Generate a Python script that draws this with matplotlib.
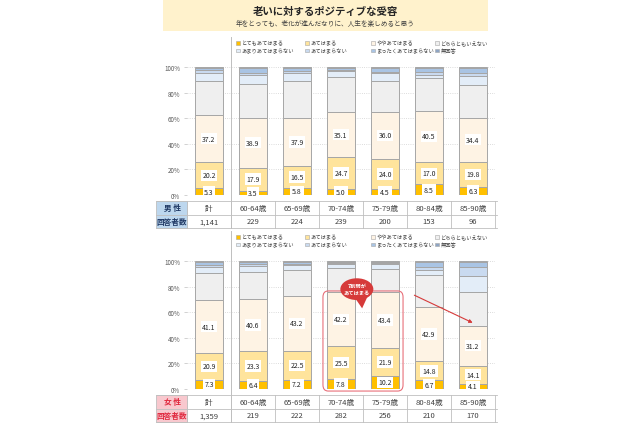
import matplotlib.pyplot as plt
import matplotlib.patches as mpatches
import matplotlib.transforms as mtrans
import numpy as np

plt.rcParams['font.family'] = ['Noto Sans CJK JP', 'DejaVu Sans']

# ---- data -------------------------------------------------------------
title = '老いに対するポジティブな受容'
subtitle = '年をとっても、老化が進んだなりに、人生を楽しめると思う'

groups = ['計', '60-64歳', '65-69歳', '70-74歳', '75-79歳', '80-84歳', '85-90歳']
answers = ['とてもあてはまる', 'あてはまる', 'ややあてはまる', 'どちらともいえない',
           'あまりあてはまらない', 'あてはまらない', 'まったくあてはまらない', '無回答']
colors = ['#FFC000', '#FFE49C', '#FEF3E4', '#EFEFEF',
          '#E3EDF8', '#C9DAF0', '#A9C4E4', '#8EA5C4']

# rows: answers (bottom -> top), columns: groups
male = np.array([
    [5.3, 3.5, 5.8, 5.0, 4.5, 8.5, 6.3],
    [20.2, 17.9, 16.5, 24.7, 24.0, 17.0, 19.8],
    [37.2, 38.9, 37.9, 35.1, 36.0, 40.5, 34.4],
    [26.3, 26.3, 28.8, 27.2, 24.5, 25.4, 25.5],
    [6.5, 7.4, 6.0, 5.0, 6.0, 2.6, 7.0],
    [1.8, 1.5, 1.5, 0.5, 1.0, 2.0, 2.0],
    [2.2, 4.0, 3.0, 2.0, 3.5, 3.5, 4.5],
    [0.5, 0.5, 0.5, 0.5, 0.5, 0.5, 0.5],
])
female = np.array([
    [7.3, 6.4, 7.2, 7.8, 10.2, 6.7, 4.1],
    [20.9, 23.3, 22.5, 25.5, 21.9, 14.8, 14.1],
    [41.1, 40.6, 43.2, 42.2, 43.4, 42.9, 31.2],
    [21.1, 21.3, 20.1, 18.8, 18.5, 24.6, 26.6],
    [5.1, 4.4, 3.5, 3.2, 3.5, 4.0, 12.5],
    [1.5, 1.5, 1.0, 1.0, 1.0, 2.0, 6.8],
    [2.5, 2.0, 2.0, 1.0, 1.0, 4.5, 4.2],
    [0.5, 0.5, 0.5, 0.5, 0.5, 0.5, 0.5],
])
male_n = ['1,141', '229', '224', '239', '200', '153', '96']
female_n = ['1,359', '219', '222', '282', '256', '210', '170']

W, H = 640, 427
fig = plt.figure(figsize=(W / 100, H / 100), dpi=100)


def fx(px):
    return px / W


def fy(py):
    return 1 - py / H


# ---- title box --------------------------------------------------------
fig.patches.append(mpatches.Rectangle((fx(163), fy(32)), fx(325), 32 / H,
                                      transform=fig.transFigure, facecolor='#FFF2CC',
                                      edgecolor='none'))
fig.text(fx(325), fy(12), title, ha='center', va='center', fontsize=7.5,
         fontweight='bold', color='#262626')
fig.text(fx(325), fy(24), subtitle, ha='center', va='center', fontsize=4.8,
         color='#404040')


def draw_panel(top, data, sex_label, ns, head_bg, head_fg):
    ax = fig.add_axes([fx(187), fy(top + 128), fx(308), 128 / H])
    x = np.arange(len(groups))
    bottom = np.zeros(len(groups))
    for i, (vals, c) in enumerate(zip(data, colors)):
        ax.bar(x, vals, 0.64, bottom=bottom, color=c, edgecolor='#A6A6A6',
               linewidth=0.7, zorder=2)
        if i < 3:
            for xi, v, b in zip(x, vals, bottom):
                ax.text(xi, b + v / 2, f'{v:.1f}', ha='center', va='center',
                        fontsize=5, color='#262626', zorder=4,
                        bbox=dict(boxstyle='square,pad=0.25', facecolor='white',
                                  edgecolor='none'))
        bottom += vals
    ax.set_xlim(-0.5, len(groups) - 0.5)
    ax.set_ylim(0, 100)
    ax.set_yticks(np.arange(0, 101, 20))
    ax.set_yticklabels([f'{v}%' for v in range(0, 101, 20)], fontsize=4.5,
                       color='#595959')
    ax.set_xticks([])
    ax.tick_params(axis='y', length=2, width=0.5, color='#BFBFBF', pad=3)
    for s in ax.spines.values():
        s.set_visible(False)
    ax.yaxis.grid(True, linestyle=':', color='#D0D0D0', linewidth=0.6, zorder=0)
    ax.set_axisbelow(True)

    # legend (two rows of four)
    cols = [238, 307, 373, 437]
    for k, (lab, c) in enumerate(zip(answers, colors)):
        px = cols[k % 4]
        py = top - 24 + 7.5 * (k // 4)
        fig.patches.append(mpatches.Rectangle((fx(px - 2), fy(py + 1.8)), fx(3.6), 3.6 / H,
                                              transform=fig.transFigure, facecolor=c,
                                              edgecolor='#A6A6A6', linewidth=0.4))
        fig.text(fx(px + 3.5), fy(py), lab, ha='left', va='center', fontsize=3.8,
                 color='#404040')

    # separator between total and age groups
    trans = mtrans.blended_transform_factory(ax.transData, fig.transFigure)
    ax.add_line(plt.Line2D([0.5, 0.5], [fy(top - 30), fy(top + 161)], transform=trans,
                           color='#BFBFBF', linewidth=0.7, clip_on=False))

    # table under the bars
    r0, r1, r2 = top + 134, top + 147.5, top + 161
    for yy in (r0, r1, r2):
        fig.lines.append(plt.Line2D([fx(156), fx(497)], [fy(yy), fy(yy)],
                                    transform=fig.transFigure, color='#BFBFBF',
                                    linewidth=0.6))
    for xb in np.arange(-0.5, len(groups), 1.0):
        ax.add_line(plt.Line2D([xb, xb], [fy(r0), fy(r2)], transform=trans,
                               color='#BFBFBF', linewidth=0.6, clip_on=False))
    fig.patches.append(mpatches.Rectangle((fx(156), fy(r2)), fx(31), (r2 - r0) / H,
                                          transform=fig.transFigure, facecolor=head_bg,
                                          edgecolor='#BFBFBF', linewidth=0.6))
    fig.text(fx(172), fy((r0 + r1) / 2), sex_label, ha='center', va='center',
             fontsize=5.5, fontweight='bold', color=head_fg)
    fig.text(fx(172), fy((r1 + r2) / 2), '回答者数', ha='center', va='center',
             fontsize=5.5, fontweight='bold', color=head_fg)
    for xi, g, n in zip(x, groups, ns):
        ax.text(xi, fy((r0 + r1) / 2), g, transform=trans, ha='center', va='center',
                fontsize=5.5, color='#404040')
        ax.text(xi, fy((r1 + r2) / 2), n, transform=trans, ha='center', va='center',
                fontsize=5.5, color='#404040')
    return ax


draw_panel(68, male, '男 性', male_n, '#BDD7EE', '#1F3864')
ax2 = draw_panel(262, female, '女 性', female_n, '#F8C8CE', '#E0283E')

# ---- callout on the female chart -------------------------------------
red = '#D63A3A'
ax2.add_patch(mpatches.FancyBboxPatch((2.59, -1.6), 1.82, 78.2,
                                      boxstyle='round,pad=0,rounding_size=0.12',
                                      mutation_aspect=40, facecolor='none',
                                      edgecolor='#E8707A', linewidth=0.8,
                                      clip_on=False, zorder=5))
ax2.add_patch(mpatches.Polygon([[3.3, 72], [3.6, 72], [3.48, 63]], closed=True,
                               facecolor=red, edgecolor='none', zorder=6,
                               clip_on=False))
ax2.add_patch(mpatches.Ellipse((3.36, 78), 0.75, 17, facecolor=red,
                               edgecolor='none', zorder=6, clip_on=False))
ax2.text(3.36, 78, '7割弱が\nあてはまる', ha='center', va='center', fontsize=3.8,
         fontweight='bold', color='white', zorder=7, linespacing=1.5)
ax2.annotate('', xy=(6.05, 50.8), xytext=(4.61, 74.2),
             arrowprops=dict(arrowstyle='-|>', color=red, lw=0.8,
                             mutation_scale=5), zorder=6)

fig.savefig('out.png', dpi=100)
